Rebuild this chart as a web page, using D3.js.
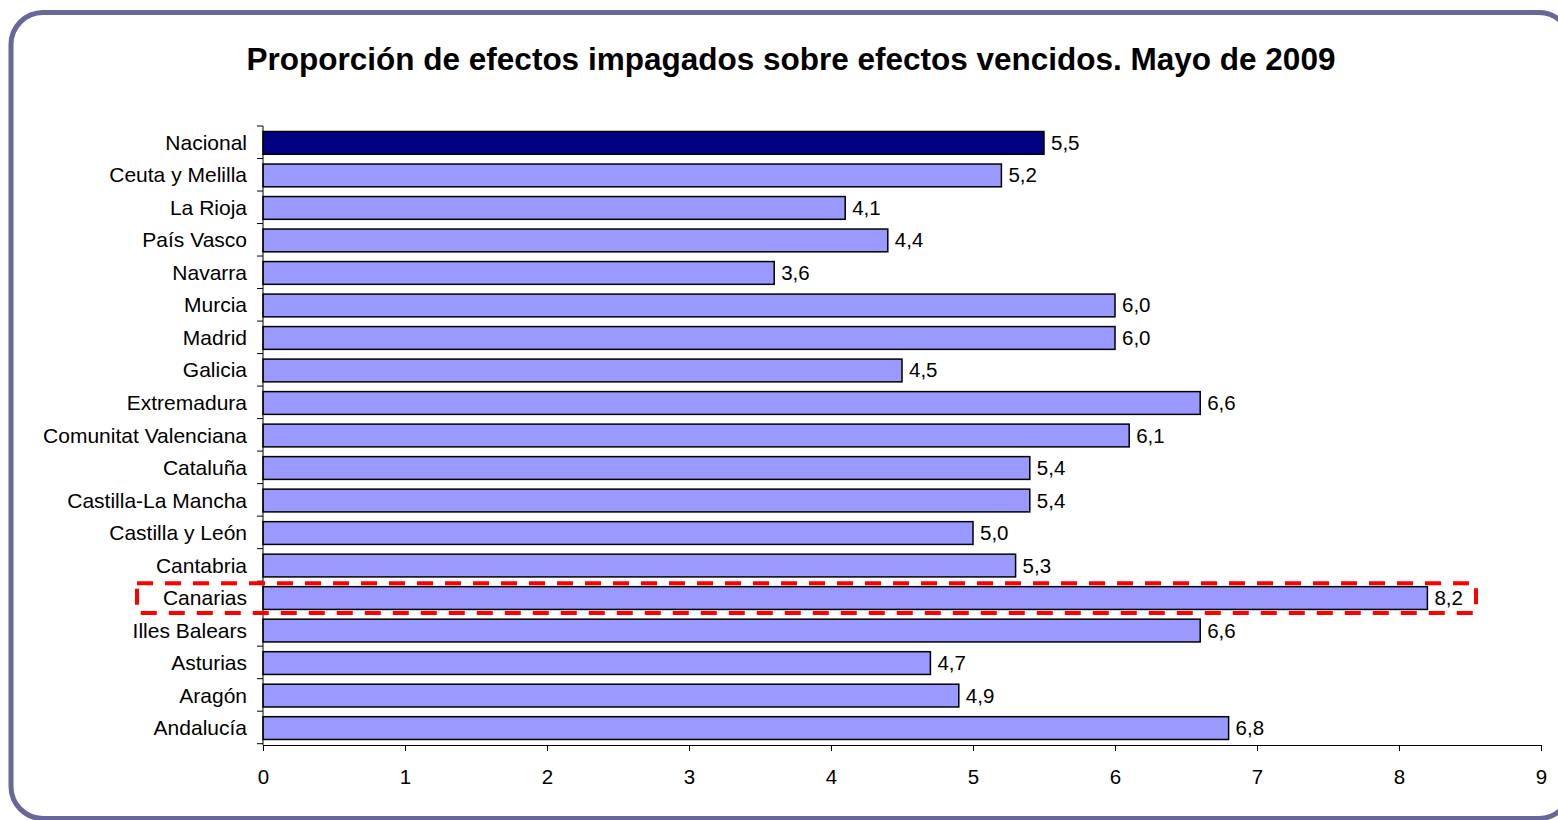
<!DOCTYPE html>
<html>
<head>
<meta charset="utf-8">
<script src="https://cdn.jsdelivr.net/npm/d3@7"></script>
<style>
  body { margin: 0; background: #fff; }
  svg { display: block; font-family: Arial, "Liberation Sans", sans-serif; }
</style>
</head>
<body>
<svg id="main_svg" width="1558" height="820"></svg>
<script>
// chart data
const titleText = "Proporción de efectos impagados sobre efectos vencidos. Mayo de 2009";
const regions = ["Nacional", "Ceuta y Melilla", "La Rioja", "País Vasco", "Navarra", "Murcia", "Madrid",
  "Galicia", "Extremadura", "Comunitat Valenciana", "Cataluña", "Castilla-La Mancha", "Castilla y León",
  "Cantabria", "Canarias", "Illes Balears", "Asturias", "Aragón", "Andalucía"];
const values = [5.5, 5.2, 4.1, 4.4, 3.6, 6.0, 6.0, 4.5, 6.6, 6.1, 5.4, 5.4, 5.0, 5.3, 8.2, 6.6, 4.7, 4.9, 6.8];
const xTicks = [0, 1, 2, 3, 4, 5, 6, 7, 8, 9];
const highlighted = "Canarias";

const svg = d3.select("#main_svg");
const plot = {left: 263, right: 1541, top: 126, bottom: 745};

// frame
svg.append("rect")
  .attr("x", 11).attr("y", 12.5)
  .attr("width", 1560).attr("height", 806)
  .attr("rx", 32).attr("ry", 32)
  .attr("fill", "none").attr("stroke", "#67679a").attr("stroke-width", 5);

svg.append("text")
  .attr("x", 791).attr("y", 70)
  .attr("text-anchor", "middle")
  .attr("font-size", 31.5).attr("font-weight", "bold")
  .text(titleText);

const x = d3.scaleLinear().domain([0, 9]).range([plot.left, plot.right]);
const y = d3.scaleBand().domain(regions).range([plot.top, plot.bottom]).paddingInner(0.3).paddingOuter(0.17);

// bars
svg.append("g").selectAll("rect").data(regions).enter().append("rect")
  .attr("x", x(0))
  .attr("y", d => y(d))
  .attr("width", (d, i) => x(values[i]) - x(0))
  .attr("height", y.bandwidth())
  .attr("fill", d => d === "Nacional" ? "#000080" : "#9999ff")
  .attr("stroke", "#000").attr("stroke-width", 1.5);

// value labels
svg.append("g").selectAll("text").data(regions).enter().append("text")
  .attr("x", (d, i) => x(values[i]) + 7)
  .attr("y", d => y(d) + y.bandwidth() / 2 + 7)
  .attr("font-size", 20.5)
  .text((d, i) => d3.format(".1f")(values[i]).replace(".", ","));

// y axis: ticks at band boundaries
const yAxisG = svg.append("g");
yAxisG.append("line")
  .attr("x1", plot.left).attr("x2", plot.left)
  .attr("y1", plot.top).attr("y2", plot.bottom)
  .attr("stroke", "#000").attr("stroke-width", 1);
const step = y.step();
yAxisG.selectAll(".ytick").data(d3.range(regions.length + 1)).enter().append("line")
  .attr("x1", plot.left - 6).attr("x2", plot.left)
  .attr("y1", i => plot.top + i * step).attr("y2", i => plot.top + i * step)
  .attr("stroke", "#000");
yAxisG.selectAll("text").data(regions).enter().append("text")
  .attr("x", 247)
  .attr("y", d => y(d) + y.bandwidth() / 2 + 7)
  .attr("text-anchor", "end")
  .attr("font-size", 21)
  .text(d => d);

// x axis
const xAxisG = svg.append("g").attr("transform", "translate(0," + plot.bottom + ")")
  .call(d3.axisBottom(x).tickValues(xTicks).tickSize(6).tickPadding(18).tickFormat(d3.format("d")));
xAxisG.select(".domain").attr("stroke", "#000");
xAxisG.selectAll("text").attr("font-size", 20.5).attr("font-family", "Arial, 'Liberation Sans', sans-serif");

// highlight box around Canarias
const hy = y(highlighted);
svg.append("rect")
  .attr("x", 137).attr("y", hy - 3.5)
  .attr("width", 1476 - 137).attr("height", y.bandwidth() + 7)
  .attr("fill", "none")
  .attr("stroke", "#ff0000").attr("stroke-width", 4)
  .attr("stroke-dasharray", "16,12");
</script>
</body>
</html>
